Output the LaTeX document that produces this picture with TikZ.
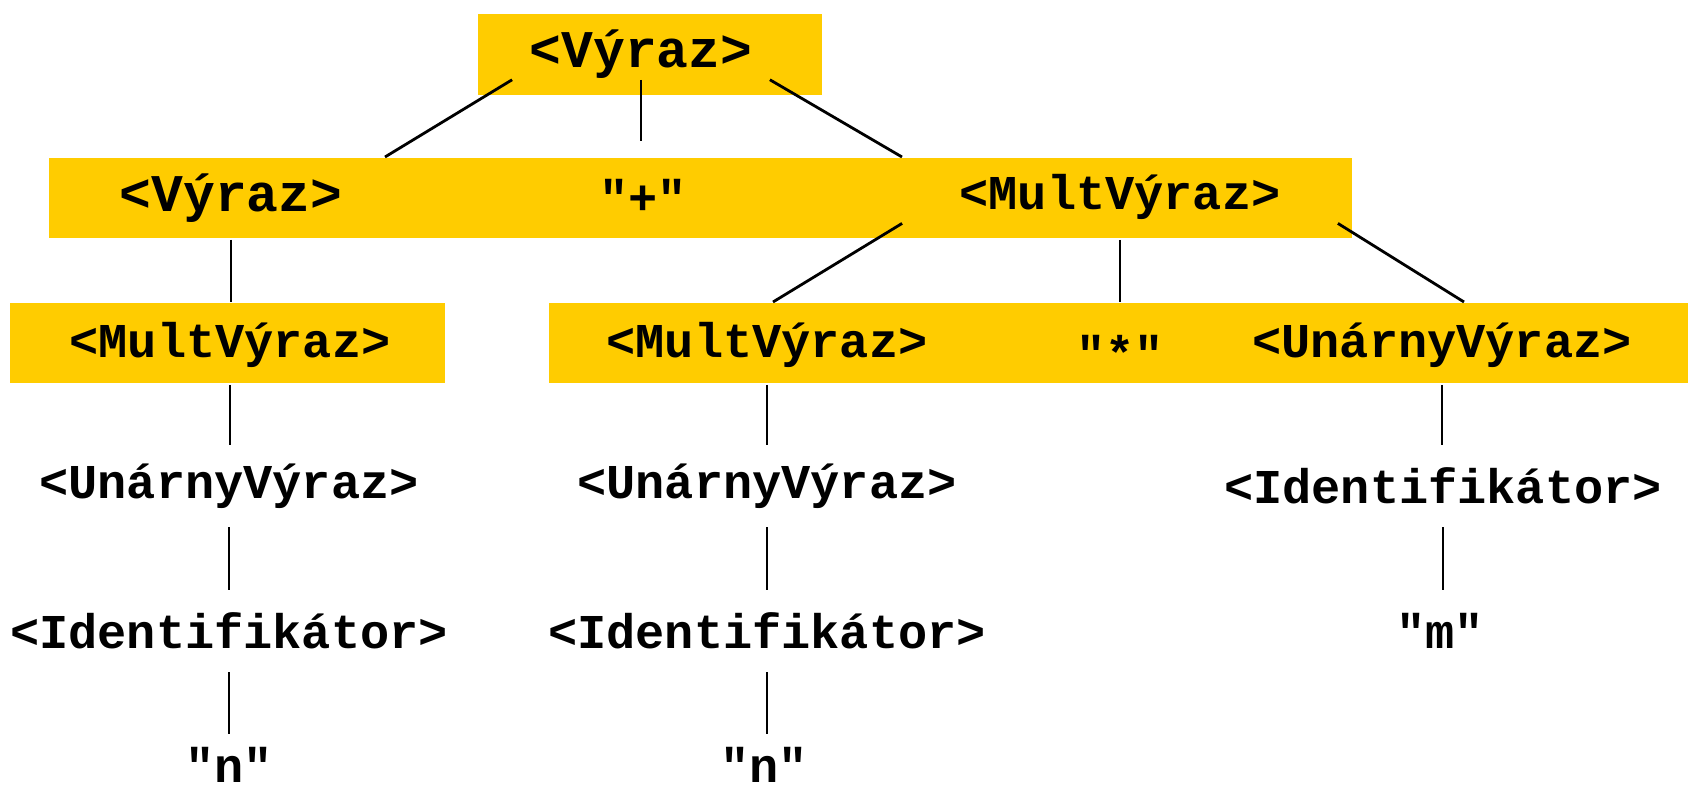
\documentclass[tikz,border=0pt]{standalone}
\usepackage{fontspec}
\setmonofont{Liberation Mono}
\usepackage{tikz}
\definecolor{bandyellow}{RGB}{255,204,0}

\begin{document}
\begin{tikzpicture}[x=0.5pt,y=-0.5pt,line width=1.4pt]
	\tikzstyle{band}=[rectangle, fill=bandyellow, inner sep=0pt, anchor=north west]
	\tikzstyle{t}=[inner sep=0pt, font=\ttfamily\bfseries\fontsize{24.3}{29}\selectfont]
	\tikzstyle{tb}=[t, font=\ttfamily\bfseries\fontsize{26.5}{32}\selectfont]
	\tikzstyle{low}=[t, minimum height=40pt]
	\tikzstyle{leaf}=[t, text height=23.5pt, text depth=0pt, anchor=base]

	\useasboundingbox (0,0) rectangle (1688,791);

	% yellow bands
	\node[band, minimum width=172pt, minimum height=40.5pt] (band1) at (477,13) {};
	\node[band, minimum width=651.5pt, minimum height=40pt] (band2) at (48,157) {};
	\node[band, minimum width=217.5pt, minimum height=40pt] (band3a) at (9,302) {};
	\node[band, minimum width=570pt, minimum height=40pt] (band3b) at (548,302) {};

	% rows of the tree
	\node[tb, minimum width=127.5pt, minimum height=24pt] (vyraz) at (641,54) {<Výraz>};

	\node[tb] (vyraz2) at (231,198) {<Výraz>};
	\node[t, minimum height=55pt] (plus) at (643,197) {"+"};
	\node[t, minimum width=216.5pt, minimum height=25pt] (mult) at (1120,197) {<MultVýraz>};

	\node[t] (mult2) at (230,345) {<MultVýraz>};
	\node[t] (mult3) at (767,345) {<MultVýraz>};
	\node[t, minimum height=51pt] (star) at (1120,353) {"*"};
	\node[t] (unar) at (1442,345) {<UnárnyVýraz>};

	\node[low] (unar2) at (229,486) {<UnárnyVýraz>};
	\node[low] (unar3) at (767,486) {<UnárnyVýraz>};
	\node[low] (ident) at (1443,486) {<Identifikátor>};

	\node[low] (ident2) at (229,631) {<Identifikátor>};
	\node[low] (ident3) at (767,631) {<Identifikátor>};
	\node[low] (m) at (1440,631) {"m"};

	\node[leaf] (n1) at (229,782) {"n"};
	\node[leaf] (n2) at (764,782) {"n"};

	% free ends on the band edges
	\coordinate (j1) at (385,157);
	\coordinate (j2) at (902,157);
	\coordinate (k1) at (773,302);
	\coordinate (k2) at (1464,302);

	\foreach \from/\to in {vyraz.south west/j1,vyraz.south east/j2,mult.south west/k1,mult.south east/k2}
	\draw (\from) -- (\to);

	\foreach \x/\from/\to in {vyraz/vyraz.south/plus.north,vyraz2/band2.south/band3a.north,mult/band2.south/band3b.north,mult2/band3a.south/unar2.north,mult3/band3b.south/unar3.north,unar/band3b.south/ident.north,unar2/unar2.south/ident2.north,unar3/unar3.south/ident3.north,ident/ident.south/m.north,ident2/ident2.south/n1.north,ident3/ident3.south/n2.north}
	\draw (\x |- \from) -- (\x |- \to);
\end{tikzpicture}
\end{document}
